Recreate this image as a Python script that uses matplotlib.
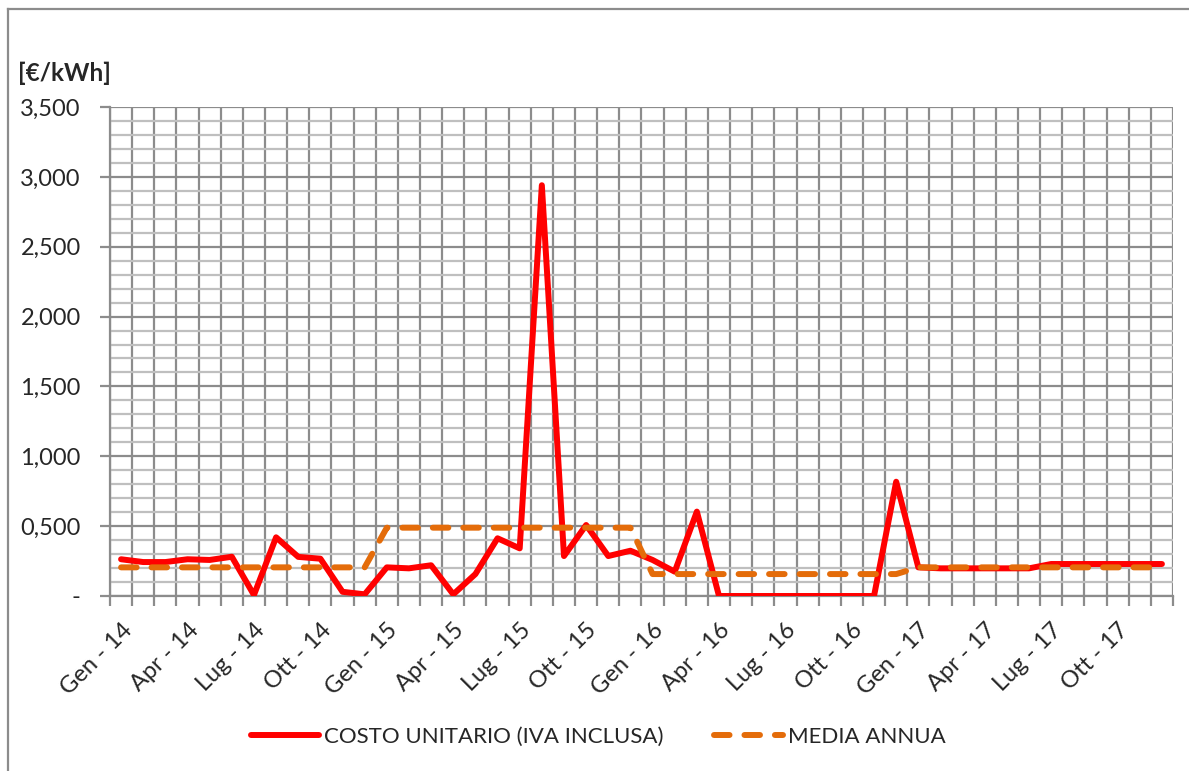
from matplotlib import pyplot as plt
from matplotlib.ticker import FixedLocator, MultipleLocator, FuncFormatter
import numpy as np

plt.rcParams["font.family"] = ["Lato", "DejaVu Sans"]

years = ["14", "15", "16", "17"]
months = ["Gen", "Feb", "Mar", "Apr", "Mag", "Giu", "Lug", "Ago", "Set", "Ott", "Nov", "Dic"]

# costo unitario mensile [€/kWh]
costo_2014 = [0.263, 0.243, 0.243, 0.263, 0.258, 0.281, 0.007, 0.420, 0.280, 0.267, 0.030, 0.012]
costo_2015 = [0.205, 0.198, 0.220, 0.012, 0.157, 0.413, 0.341, 2.940, 0.286, 0.508, 0.286, 0.324]
costo_2016 = [0.258, 0.174, 0.604, 0.0, 0.0, 0.0, 0.0, 0.0, 0.0, 0.0, 0.0, 0.818]
costo_2017 = [0.205, 0.198, 0.198, 0.198, 0.198, 0.198, 0.229, 0.229, 0.229, 0.229, 0.229, 0.229]

# media annua
media_annua = [0.205, 0.489, 0.157, 0.205]

costo = costo_2014 + costo_2015 + costo_2016 + costo_2017
media = [m for m in media_annua for _ in range(12)]
labels = [f"{m} - {y}" for y in years for m in months]

RED = "#FF0000"
ORANGE = "#E46C0A"
GRID_DARK = "#8C8C8C"
GRID_LIGHT = "#BFBFBF"
TXT = "#262626"

fig = plt.figure(figsize=(11.89, 7.71), dpi=100)
ax = fig.add_axes([110 / 1189, 1 - 596 / 771, 1063 / 1189, 489 / 771])

x = np.arange(len(costo)) + 0.5
ax.plot(x, costo, color=RED, lw=4.3, solid_joinstyle="round", solid_capstyle="round",
        label="COSTO UNITARIO (IVA INCLUSA)", zorder=3)
ax.plot(x, media, color=ORANGE, lw=4.3, dashes=(2.6, 2.5), dash_capstyle="round",
        label="MEDIA ANNUA", zorder=4)

ax.set_xlim(0, len(costo))
ax.set_ylim(0, 3.5)

# category boundaries as major x ticks, labels every 3 months at centres
ax.xaxis.set_major_locator(FixedLocator(np.arange(0, len(costo) + 1)))
ax.xaxis.set_major_formatter(FuncFormatter(lambda v, p: ""))
ax.xaxis.set_minor_locator(FixedLocator(x[::3]))
ax.set_xticklabels(labels[::3], minor=True, rotation=45, ha="right",
                   rotation_mode="anchor", fontsize=17, color=TXT)
ax.tick_params(axis="x", which="major", length=7, width=1.6, color=GRID_DARK)
ax.tick_params(axis="x", which="minor", length=0, pad=17)

ax.yaxis.set_major_locator(MultipleLocator(0.5))
ax.yaxis.set_minor_locator(MultipleLocator(0.1))
ax.yaxis.set_major_formatter(
    FuncFormatter(lambda v, p: "-" if abs(v) < 1e-9 else f"{v:.3f}".replace(".", ","))
)
ax.tick_params(axis="y", which="major", length=7, width=1.6, color=GRID_DARK,
               labelsize=17, labelcolor=TXT, pad=14)
ax.tick_params(axis="y", which="minor", length=0)
ax.yaxis.get_major_ticks()[0].set_pad(30)

ax.grid(True, which="major", axis="both", color=GRID_DARK, lw=1.6)
ax.grid(True, which="minor", axis="y", color=GRID_LIGHT, lw=1.6)
ax.set_axisbelow(True)
for side in ["top", "right"]:
    ax.spines[side].set_visible(False)
for side in ["left", "bottom"]:
    ax.spines[side].set_color(GRID_DARK)
    ax.spines[side].set_linewidth(1.6)

fig.text(18 / 1189, 1 - 73 / 771, "[€/kWh]", fontsize=17.5, fontweight="bold",
         color=TXT, va="center", ha="left")

fig.legend(loc="center", bbox_to_anchor=(0.503, 1 - 737 / 771), ncol=2, frameon=False,
           fontsize=16, handlelength=3.1, handletextpad=0.2, columnspacing=2.3,
           labelcolor=TXT)

# chart area border (left and top visible)
fig.add_artist(plt.Line2D([8 / 1189, 8 / 1189], [0, 1 - 9 / 771], color=GRID_DARK, lw=1.6))
fig.add_artist(plt.Line2D([8 / 1189, 1], [1 - 9 / 771, 1 - 9 / 771], color=GRID_DARK, lw=1.6))

fig.savefig("out.png", dpi=100)
